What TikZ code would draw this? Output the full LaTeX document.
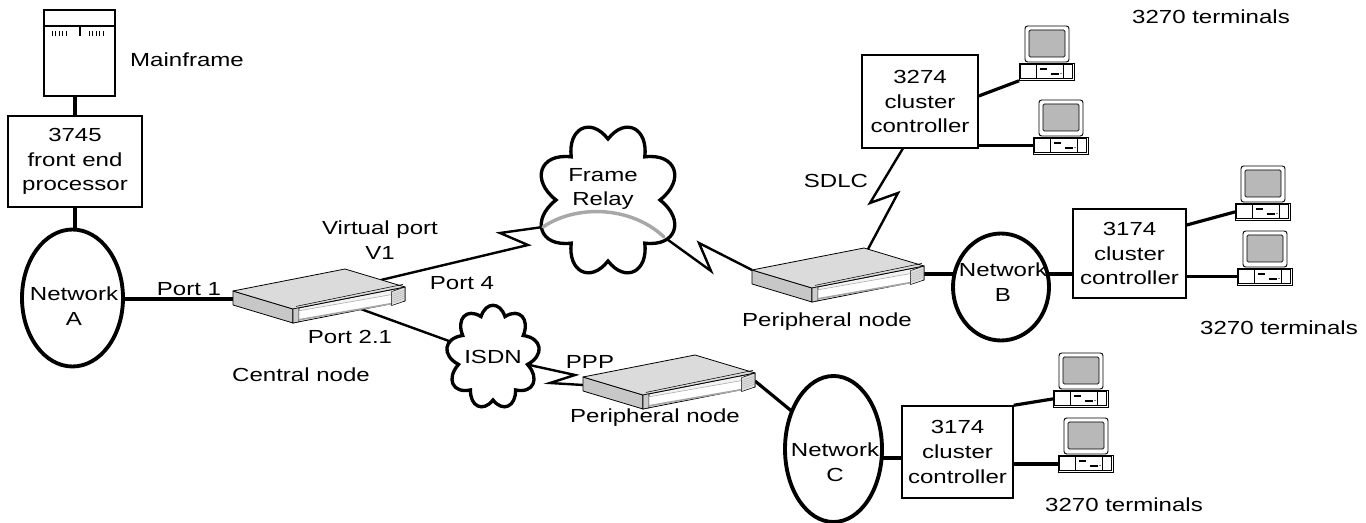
\documentclass[tikz,border=0pt]{standalone}
\usepackage{fontspec}
\setmainfont{Liberation Sans}[FakeStretch=1.27]
\usetikzlibrary{shapes.geometric,calc}
\pgfdeclarelayer{background}
\pgfsetlayers{background,main}

\definecolor{slabtop}{gray}{0.86}
\definecolor{slabside}{gray}{0.78}
\definecolor{screen}{gray}{0.72}
\definecolor{vcirc}{gray}{0.66}

\tikzset{
  lbl/.style={font=\fontsize{14.2pt}{18.6pt}\selectfont, inner sep=0pt, align=center},
  box/.style={lbl, draw, line width=1.1pt, fill=white},
  net/.style={draw, ellipse, line width=2.9pt, fill=white, inner sep=0pt},
  link/.style={line width=2.4pt},
  serial/.style={line width=1.8pt, line join=miter},
  cloudline/.style={draw, fill=white, line width=2.5pt, line join=miter},
  anchorzone/.style={ellipse, inner sep=0pt},
  % flat router/node chassis; origin at the left corner of the top face
  slab/.pic={
    \coordinate (-L) at (0,0);
    \coordinate (-lf) at (0,8);
    \coordinate (-rr) at (172,4);
    \coordinate (-p4) at (148,-11);
    \coordinate (-p21) at (125,17);
    \coordinate (-sd) at (115,-19);
    \filldraw[fill=slabside, line width=0.6pt, line join=round] (0,0) -- (60,18) -- (60,32) -- (0,14) -- cycle;
    \filldraw[fill=gray!10, line width=0.6pt, line join=round] (60,18) -- (172,-4) -- (172,10) -- (60,32) -- cycle;
    \filldraw[fill=slabtop, line width=0.6pt, line join=round] (0,0) -- (60,18) -- (172,-4) -- (112,-22) -- cycle;
    \draw[line width=0.4pt] (63,15.4) -- (170,-6.6);
    % front bezel: end cap, display slot, vent grille
    \filldraw[fill=gray!40, line width=0.4pt] (60,18) -- (66,16.8) -- (66,30.8) -- (60,32) -- cycle;
    \filldraw[fill=white, draw=gray!70, line width=0.4pt] (66,19.8) -- (158.6,3.6) -- (158.6,12.6) -- (66,28.8) -- cycle;
    \draw[gray!70, line width=1.2pt] (66,28.8) -- (158.6,12.6);
    \filldraw[fill=gray!25, line width=0.4pt] (158.6,0.6) -- (172,-4) -- (172,10) -- (158.6,14.6) -- cycle;
    \foreach \k in {3,5,7,9,11} \draw[gray!60, line width=0.3pt] (158.6,0.6+\k) -- (172,-4+\k);
  },
  % 3270 terminal; origin at the top left corner of the system unit
  terminal/.pic={
    \node[draw, line width=0.6pt, fill=white, minimum width=41.25pt, minimum height=12.75pt,
          inner sep=0pt, anchor=north west] (-base) at (0,0) {};
    \draw[line width=0.4pt] (1.5,1.5) rectangle (53.5,15.5);
    \draw[line width=0.4pt] (17,1.5) -- (17,15.5) (44,1.5) -- (44,15.5);
    \draw[line width=0.9pt] (21,6) -- (28,6);
    \draw[line width=0.9pt] (32,11) -- (40,11);
    \fill (42,10.5) circle (0.7);
    \filldraw[fill=white, rounded corners=2pt, line width=0.7pt] (6,-37) rectangle (50,-1);
    \filldraw[fill=screen, rounded corners=1pt, line width=0.5pt] (10,-33) rectangle (46,-6);
  },
}

% scalloped carrier cloud round a node: #1 node, #2/#3 radii of the cusps,
% #4 number of lobes, #5 angle of the first cusp, #6 looseness of the lobes
% (out/in angles are page angles, the cusp angles run in the y-down frame)
\newcommand\cloudoutline[6]{%
  \pgfmathsetmacro\cloudstep{360/#4}%
  \path[cloudline] ($(#1.center)+(#5:#2 and #3)$)
    \foreach \k in {1,...,#4} {
      to[out={-(#5+(\k-1)*\cloudstep+38)}, in={-(#5+\k*\cloudstep-38)}, looseness=#6]
      ($(#1.center)+({#5+\k*\cloudstep}:#2 and #3)$)
    } -- cycle;
}

\begin{document}
\begin{tikzpicture}[x=0.75pt, y=-0.75pt]
\useasboundingbox (0,0) rectangle (1366,523);

% mainframe and front end processor
\node[draw, line width=1.1pt, fill=white, minimum width=53.25pt, minimum height=64.5pt, inner sep=0pt] (mainframe) at (79.5,53) {};
\draw[line width=0.8pt] (44,26) -- (115,26);
\foreach \x in {52,55.5,59,62.5,66,89,92.5,96,99.5,103} \draw[line width=0.5pt] (\x,31) -- (\x,36);
\draw[line width=0.8pt] (80,27) -- (80,36);
\node[lbl] (lblmain) at (187,60) {Mainframe};

\node[box, minimum width=100.5pt, minimum height=68.25pt] (fep) at (75,161.5) {3745\\front end\\processor};

% local networks
\node[net, minimum width=75.75pt, minimum height=102.75pt] (neta) at (72.5,298) {};
\node[lbl] (lblneta) at (74,306) {Network\\A};
\node[net, minimum width=72pt, minimum height=80.25pt] (netb) at (1001,287) {};
\node[lbl] (lblnetb) at (1003,282) {Network\\B};
\node[net, minimum width=72.75pt, minimum height=109.5pt] (netc) at (833.5,449) {};
\node[lbl] (lblnetc) at (835,462) {Network\\C};

% cluster controllers
\node[box, minimum width=87pt, minimum height=69.75pt] (c3274) at (920,101.5) {3274\\cluster\\controller};
\node[box, minimum width=84.75pt, minimum height=66.75pt] (c3174b) at (1129.5,253.5) {3174\\cluster\\controller};
\node[box, minimum width=83.25pt, minimum height=69pt] (c3174c) at (957.5,452) {3174\\cluster\\controller};

% carrier clouds
\node[anchorzone, minimum width=96pt, minimum height=114pt] (fr) at (608,200) {};
\cloudoutline{fr}{52}{61}{8}{0}{1.8}
\node[lbl] (lblfr) at (603,189) {Frame\\Relay};
\node[anchorzone, minimum width=62pt, minimum height=78pt] (isdn) at (493,357) {};
\cloudoutline{isdn}{35}{43}{9}{90}{1.7}
\node[lbl] (lblisdn) at (493,357) {ISDN};

% routers
\pic (cr) at (233,291) {slab};
\pic (pr1) at (752,270) {slab};
\pic (pr2) at (583,377) {slab};

% terminals
\pic (t1) at (1019,63) {terminal};
\pic (t2) at (1033,137) {terminal};
\pic (t3) at (1235,203) {terminal};
\pic (t4) at (1237,268) {terminal};
\pic (t5) at (1053,390) {terminal};
\pic (t6) at (1058,455) {terminal};

% zig-zag bends of the serial links
\coordinate (z1) at (528,245);
\coordinate (z2) at (500,233);
\coordinate (fa) at (543,227);
\coordinate (fb) at (664,237);
\coordinate (y1) at (711,271);
\coordinate (y2) at (699,243);
\coordinate (s1) at (898,193);
\coordinate (s2) at (870,203);
\coordinate (s3) at (908,140);
\coordinate (q1) at (575,375);
\coordinate (q2) at (550,383);
\coordinate (nc) at (800,418);

% virtual circuit through the frame relay cloud
\draw[vcirc, line width=2.6pt, line cap=round] (fa) .. controls (575,205) and (630,205) .. (fb);

% labels
\node[lbl] (lblport1) at (189,289) {Port 1};
\node[lbl] (lblvport) at (380,240) {Virtual port\\V1};
\node[lbl] (lblport4) at (462,283) {Port 4};
\node[lbl] (lblport21) at (350,337) {Port 2.1};
\node[lbl] (lblcentral) at (301,375) {Central node};
\node[lbl] (lblppp) at (590,362) {PPP};
\node[lbl] (lblsdlc) at (836,181) {SDLC};
\node[lbl] (lblper1) at (827,322) {Peripheral node};
\node[lbl] (lblper2) at (655,418) {Peripheral node};
\node[lbl] (lblterm1) at (1211,17) {3270 terminals};
\node[lbl] (lblterm2) at (1279,328) {3270 terminals};
\node[lbl] (lblterm3) at (1124,505) {3270 terminals};

\begin{pgfonlayer}{background}
  \draw[link] (fep.north) -- (fep.north |- mainframe.south);
  \draw[link] (fep.south) -- (fep.south |- neta.center);
  \draw[link] (neta.center |- cr-lf) -- (cr-lf);
  \draw[serial] (cr-p4) -- (z1) -- (z2) -- (fa);
  \draw[serial] (fb) -- (y1) -- (y2) -- (pr1-L);
  \draw[serial] (cr-p21) -- (isdn.center);
  \draw[serial] (isdn.center) -- (q1) -- (q2) -- (pr2-lf);
  \draw[serial] (pr1-sd) -- (s1) -- (s2) -- (s3);
  \draw[link] (pr1-rr) -- (pr1-rr -| netb.center);
  \draw[link] (netb.center |- pr1-rr) -- (c3174b.center |- pr1-rr);
  \draw[link] (pr2-rr) -- (nc);
  \draw[link] (c3174c.west |- 0,458) -- (netc.center |- 0,458);
  \draw[link] (c3274.east |- 0,96) -- (t1-base.south west);
  \draw[link] (c3274.east |- t2-base.west) -- (t2-base.west);
  \draw[link] (c3174b.east |- 0,225) -- (t3-base.west);
  \draw[link] (c3174b.east |- t4-base.west) -- (t4-base.west);
  \draw[link] (c3174c.north east) -- (t5-base.west);
  \draw[link] (c3174c.east |- t6-base.west) -- (t6-base.west);
\end{pgfonlayer}
\end{tikzpicture}
\end{document}
